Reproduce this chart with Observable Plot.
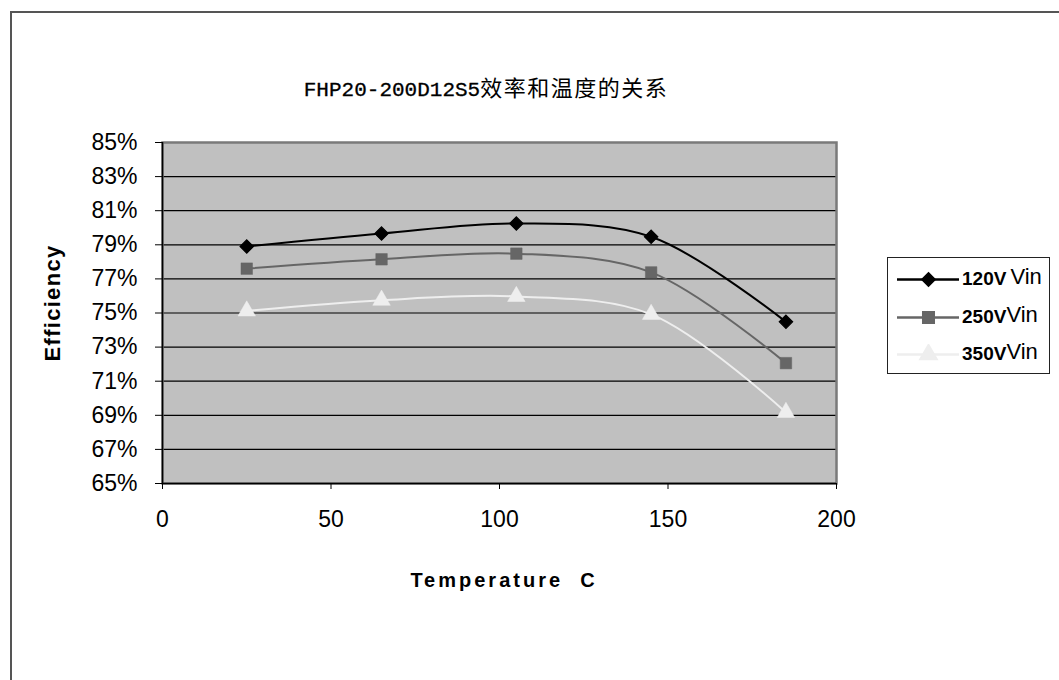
<!DOCTYPE html>
<html>
<head>
<meta charset="utf-8">
<script src="https://cdn.jsdelivr.net/npm/d3@7"></script>
<script src="https://cdn.jsdelivr.net/npm/@observablehq/plot@0.6"></script>
<style>
  html, body { margin: 0; padding: 0; background: #fff; }
  #wrap { position: relative; width: 1059px; height: 680px; overflow: hidden; background: #fff; }
  #border { position: absolute; left: 10px; top: 11px; right: -10px; bottom: -10px; border-top: 2px solid #555; border-left: 2px solid #555; }
  #chart { position: absolute; left: 0; top: 0; }
  #title { position: absolute; left: 0; width: 972px; top: 70px; text-align: center; white-space: nowrap; color: #000; }
  #title .lat { font-family: "Liberation Mono", "DejaVu Sans Mono", monospace; font-size: 21px; -webkit-text-stroke: 0.3px #000; }
  #title .cjk { font-family: "Noto Sans CJK SC", sans-serif; font-size: 22px; letter-spacing: 1.5px; }
  #ylab { position: absolute; left: 53px; top: 303px; transform: translate(-50%, -50%) rotate(-90deg); font-family: "Liberation Sans", Arial, sans-serif; font-weight: bold; font-size: 22px; letter-spacing: 1.3px; white-space: nowrap; }
  #xlab { position: absolute; left: 504px; top: 580px; transform: translate(-50%, -50%); font-family: "Liberation Sans", Arial, sans-serif; font-weight: bold; font-size: 20px; letter-spacing: 3px; white-space: nowrap; }
  #legend { position: absolute; left: 887px; top: 257px; width: 163px; height: 117px; border: 1px solid #222; box-sizing: border-box; background: #fff; font-family: "Liberation Sans", Arial, sans-serif; }
  .row { position: absolute; left: 9px; height: 22px; display: flex; align-items: center; }
  .row svg { display: block; }
  .row .b { font-weight: bold; font-size: 19px; margin-left: 3px; }
  .row .v { font-size: 22px; position: relative; top: -2px; }
</style>
</head>
<body>
<div id="wrap">
  <div id="border"></div>
  <div id="chart"></div>
  <div id="title"><span class="lat">FHP20-200D12S5</span><span class="cjk">效率和温度的关系</span></div>
  <div id="ylab">Efficiency</div>
  <div id="xlab">Temperature&nbsp; C</div>
  <div id="legend"></div>
</div>
<script>
// Data
const temperatures = [25, 65, 105, 145, 185];
const eff120 = [78.9, 79.66, 80.25, 79.47, 74.48];
const eff250 = [77.6, 78.15, 78.48, 77.38, 72.06];
const eff350 = [75.12, 75.75, 75.97, 74.92, 69.17];
const seriesNames = ["120V", "250V", "350V"];
const seriesColors = ["#000000", "#666666", "#eeeeee"];
const seriesSymbols = ["diamond2", "square", "triangle"];
const xTicks = [0, 50, 100, 150, 200];
const yTicks = [65, 67, 69, 71, 73, 75, 77, 79, 81, 83, 85];

const allValues = [eff120, eff250, eff350];
const rows = [];
allValues.forEach((vals, si) => {
  temperatures.forEach((t, i) => rows.push({series: seriesNames[si], t, e: vals[i]}));
});

const marks = [
  Plot.frame({fill: "#c0c0c0", stroke: null}),
  Plot.ruleY(yTicks.slice(1, -1), {stroke: "#000", strokeWidth: 1.2}),
  Plot.frame({stroke: "#7a7a7a", strokeWidth: 2.5}),
  Plot.ruleX([0], {stroke: "#000", strokeWidth: 1.5}),
  Plot.ruleY([65], {stroke: "#000", strokeWidth: 1.5}),
];
seriesNames.forEach((name, si) => {
  const d = rows.filter(r => r.series === name);
  marks.push(Plot.line(d, {x: "t", y: "e", stroke: seriesColors[si], strokeWidth: 2, curve: "catmull-rom"}));
});
seriesNames.forEach((name, si) => {
  const d = rows.filter(r => r.series === name);
  marks.push(Plot.dot(d, {x: "t", y: "e", symbol: () => seriesSymbols[si], fill: seriesColors[si], stroke: seriesColors[si], strokeWidth: si === 0 ? 1.2 : 0.5, r: si === 0 ? 6 : 6.5}));
});
marks.push(
  Plot.axisX({ticks: xTicks, tickSize: 6, tickPadding: 21, tickFormat: d => String(d), stroke: "#000", label: null, fontSize: 23, fontFamily: "Liberation Sans, Arial, sans-serif", fill: "#000"}),
  Plot.axisY({ticks: yTicks, tickSize: 7, tickPadding: 18, tickFormat: d => d + "%", stroke: "#000", label: null, fontSize: 23, fontFamily: "Liberation Sans, Arial, sans-serif", fill: "#000"})
);

const chart = Plot.plot({
  width: 1059,
  height: 680,
  marginLeft: 162,
  marginRight: 223,
  marginTop: 142,
  marginBottom: 197,
  style: {background: "transparent", color: "#000", fontFamily: "Liberation Sans, Arial, sans-serif"},
  x: {domain: [0, 200]},
  y: {domain: [65, 85]},
  symbol: {type: "identity"},
  marks
});
document.getElementById("chart").appendChild(chart);

// Legend
const legend = document.getElementById("legend");
const rowTops = [10, 48, 85];
seriesNames.forEach((name, si) => {
  const row = document.createElement("div");
  row.className = "row";
  row.style.top = rowTops[si] + "px";
  const sw = Plot.plot({
    width: 62, height: 20, margin: 0,
    x: {domain: [0, 2], axis: null}, y: {domain: [0, 2], axis: null},
    style: {background: "transparent"},
    symbol: {type: "identity"},
    marks: [
      Plot.ruleY([1], {stroke: seriesColors[si], strokeWidth: 2.5}),
      Plot.dot([1], {x: d => d, y: d => d, symbol: () => seriesSymbols[si], fill: seriesColors[si], stroke: seriesColors[si], r: si === 0 ? 6 : 6.5})
    ]
  });
  row.appendChild(sw);
  const b = document.createElement("span"); b.className = "b"; b.textContent = name;
  const v = document.createElement("span"); v.className = "v"; v.textContent = "Vin";
  if (si === 0) v.style.marginLeft = "4px";
  row.appendChild(b); row.appendChild(v);
  legend.appendChild(row);
});
</script>
</body>
</html>
